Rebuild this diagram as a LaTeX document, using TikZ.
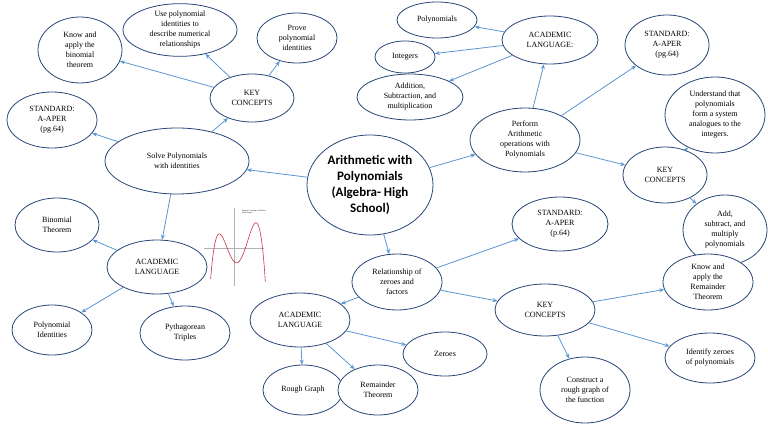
\documentclass[tikz,border=0pt]{standalone}
\usepackage{fontspec}
\setmainfont{Liberation Serif}
\newfontfamily\titlefont{Carlito}
\usetikzlibrary{shapes.geometric, arrows.meta}
\definecolor{rim}{RGB}{40,70,120}
\definecolor{link}{RGB}{90,150,210}
\definecolor{curve}{RGB}{200,50,70}
\tikzset{
  bubble/.style={ellipse, draw=rim, thick, fill=white, inner sep=0pt, align=center,
    font=\fontsize{8}{10}\selectfont},
  link/.style={draw=link, thick, -{Stealth[length=5pt,width=4pt]}}
}
\newcommand{\bub}[5]{\node[bubble, minimum width=#3pt, minimum height=#4pt] (#1) at #2 {#5};}

\begin{document}
\begin{tikzpicture}[x=1pt, y=-1pt]
		\useasboundingbox (0,0) rectangle (768,433);
		% Centre
		\node[bubble, minimum width=126pt, minimum height=100pt, font=\titlefont\bfseries\fontsize{13}{16}\selectfont] (title) at (370,185) {Arithmetic with\\Polynomials\\(Algebra- High\\School)};
		% Upper left branch
		\bub{keyA}{(252,98)}{84}{48}{KEY\\CONCEPTS}
		\bub{binapply}{(80,50)}{84}{66}{Know and\\apply the\\binomial\\theorem}
		\bub{useid}{(180,30)}{114}{52}{Use polynomial\\identities to\\describe numerical\\relationships}
		\bub{proveid}{(297,38)}{80}{50}{Prove\\polynomial\\identities}
		\bub{stdA}{(52,120)}{90}{56}{STANDARD:\\A-APER\\(pg.64)}
		\bub{solve}{(177,161)}{144}{66}{Solve Polynomials\\with identities}
		% Lower left branch
		\bub{acadA}{(157,267)}{100}{54}{ACADEMIC\\LANGUAGE}
		\bub{binth}{(57,225)}{84}{54}{Binomial\\Theorem}
		\bub{polyid}{(52,330)}{80}{50}{Polynomial\\Identities}
		\bub{pyth}{(185,333)}{90}{54}{Pythagorean\\Triples}
		% Upper right branch
		\bub{perform}{(525,140)}{110}{64}{Perform\\Arithmetic\\operations with\\Polynomials}
		\bub{acadB}{(550,40)}{96}{48}{ACADEMIC\\LANGUAGE:}
		\bub{polys}{(437,20)}{80}{36}{Polynomials}
		\bub{ints}{(405,57)}{60}{32}{Integers}
		\bub{addsub}{(410,97)}{106}{46}{Addition,\\Subtraction, and\\multiplication}
		\bub{stdB}{(667,45)}{84}{60}{STANDARD:\\A-APER\\(pg.64)}
		\bub{keyB}{(665,175)}{84}{56}{KEY\\CONCEPTS}
		\bub{system}{(715,115)}{100}{76}{Understand that\\polynomials\\form a system\\analogues to the\\integers.}
		\bub{addmult}{(725,230)}{84}{70}{Add,\\subtract, and\\multiply\\polynomials}
		% Lower right branch
		\bub{relate}{(397,282)}{90}{56}{Relationship of\\zeroes and\\factors}
		\bub{stdC}{(560,224)}{96}{54}{STANDARD:\\A-APER\\(p.64)}
		\bub{acadC}{(300,320)}{100}{54}{ACADEMIC\\LANGUAGE}
		\bub{keyC}{(545,310)}{100}{52}{KEY\\CONCEPTS}
		\bub{remth}{(708,282)}{90}{56}{Know and\\apply the\\Remainder\\Theorem}
		\bub{zeroes}{(445,354)}{84}{44}{Zeroes}
		\bub{rough}{(303,390)}{80}{50}{Rough Graph}
		\bub{remain}{(378,390)}{80}{50}{Remainder\\Theorem}
		\bub{identify}{(710,358)}{90}{50}{Identify zeroes\\of polynomials}
		\bub{construct}{(585,390)}{90}{66}{Construct a\\rough graph of\\the function}
		% Connectors
		\foreach \a/\b in {keyA/binapply, keyA/useid, keyA/proveid, solve/keyA, solve/stdA, solve/acadA,
		  title/solve, acadA/binth, acadA/polyid, acadA/pyth, title/perform, perform/acadB,
		  acadB/polys, acadB/ints, acadB/addsub, perform/stdB, perform/keyB, keyB/system, keyB/addmult,
		  title/relate, relate/stdC, relate/acadC, relate/keyC, acadC/rough, acadC/remain, acadC/zeroes,
		  keyC/remth, keyC/identify, keyC/construct}
		  \draw[link] (\a) -- (\b);
		% Small graph
		\begin{scope}[shift={(234,248)}]
			\draw[gray!60, very thin] (-30,0) -- (30,0) (0,-40) -- (0,38);
			\node[font=\fontsize{2}{2.5}\selectfont, align=left] (gcap) at (20,-36) {Negative Leading Coefficient\\Even Degree};
			\draw[curve, semithick, domain=-4.1:5.5, samples=60, smooth, variable=\x]
			  plot ({5.7*\x}, {0.32*(\x+3.5)*(\x+1.2)*(\x-2)*(\x-5)});
		\end{scope}
	\end{tikzpicture}
\end{document}
